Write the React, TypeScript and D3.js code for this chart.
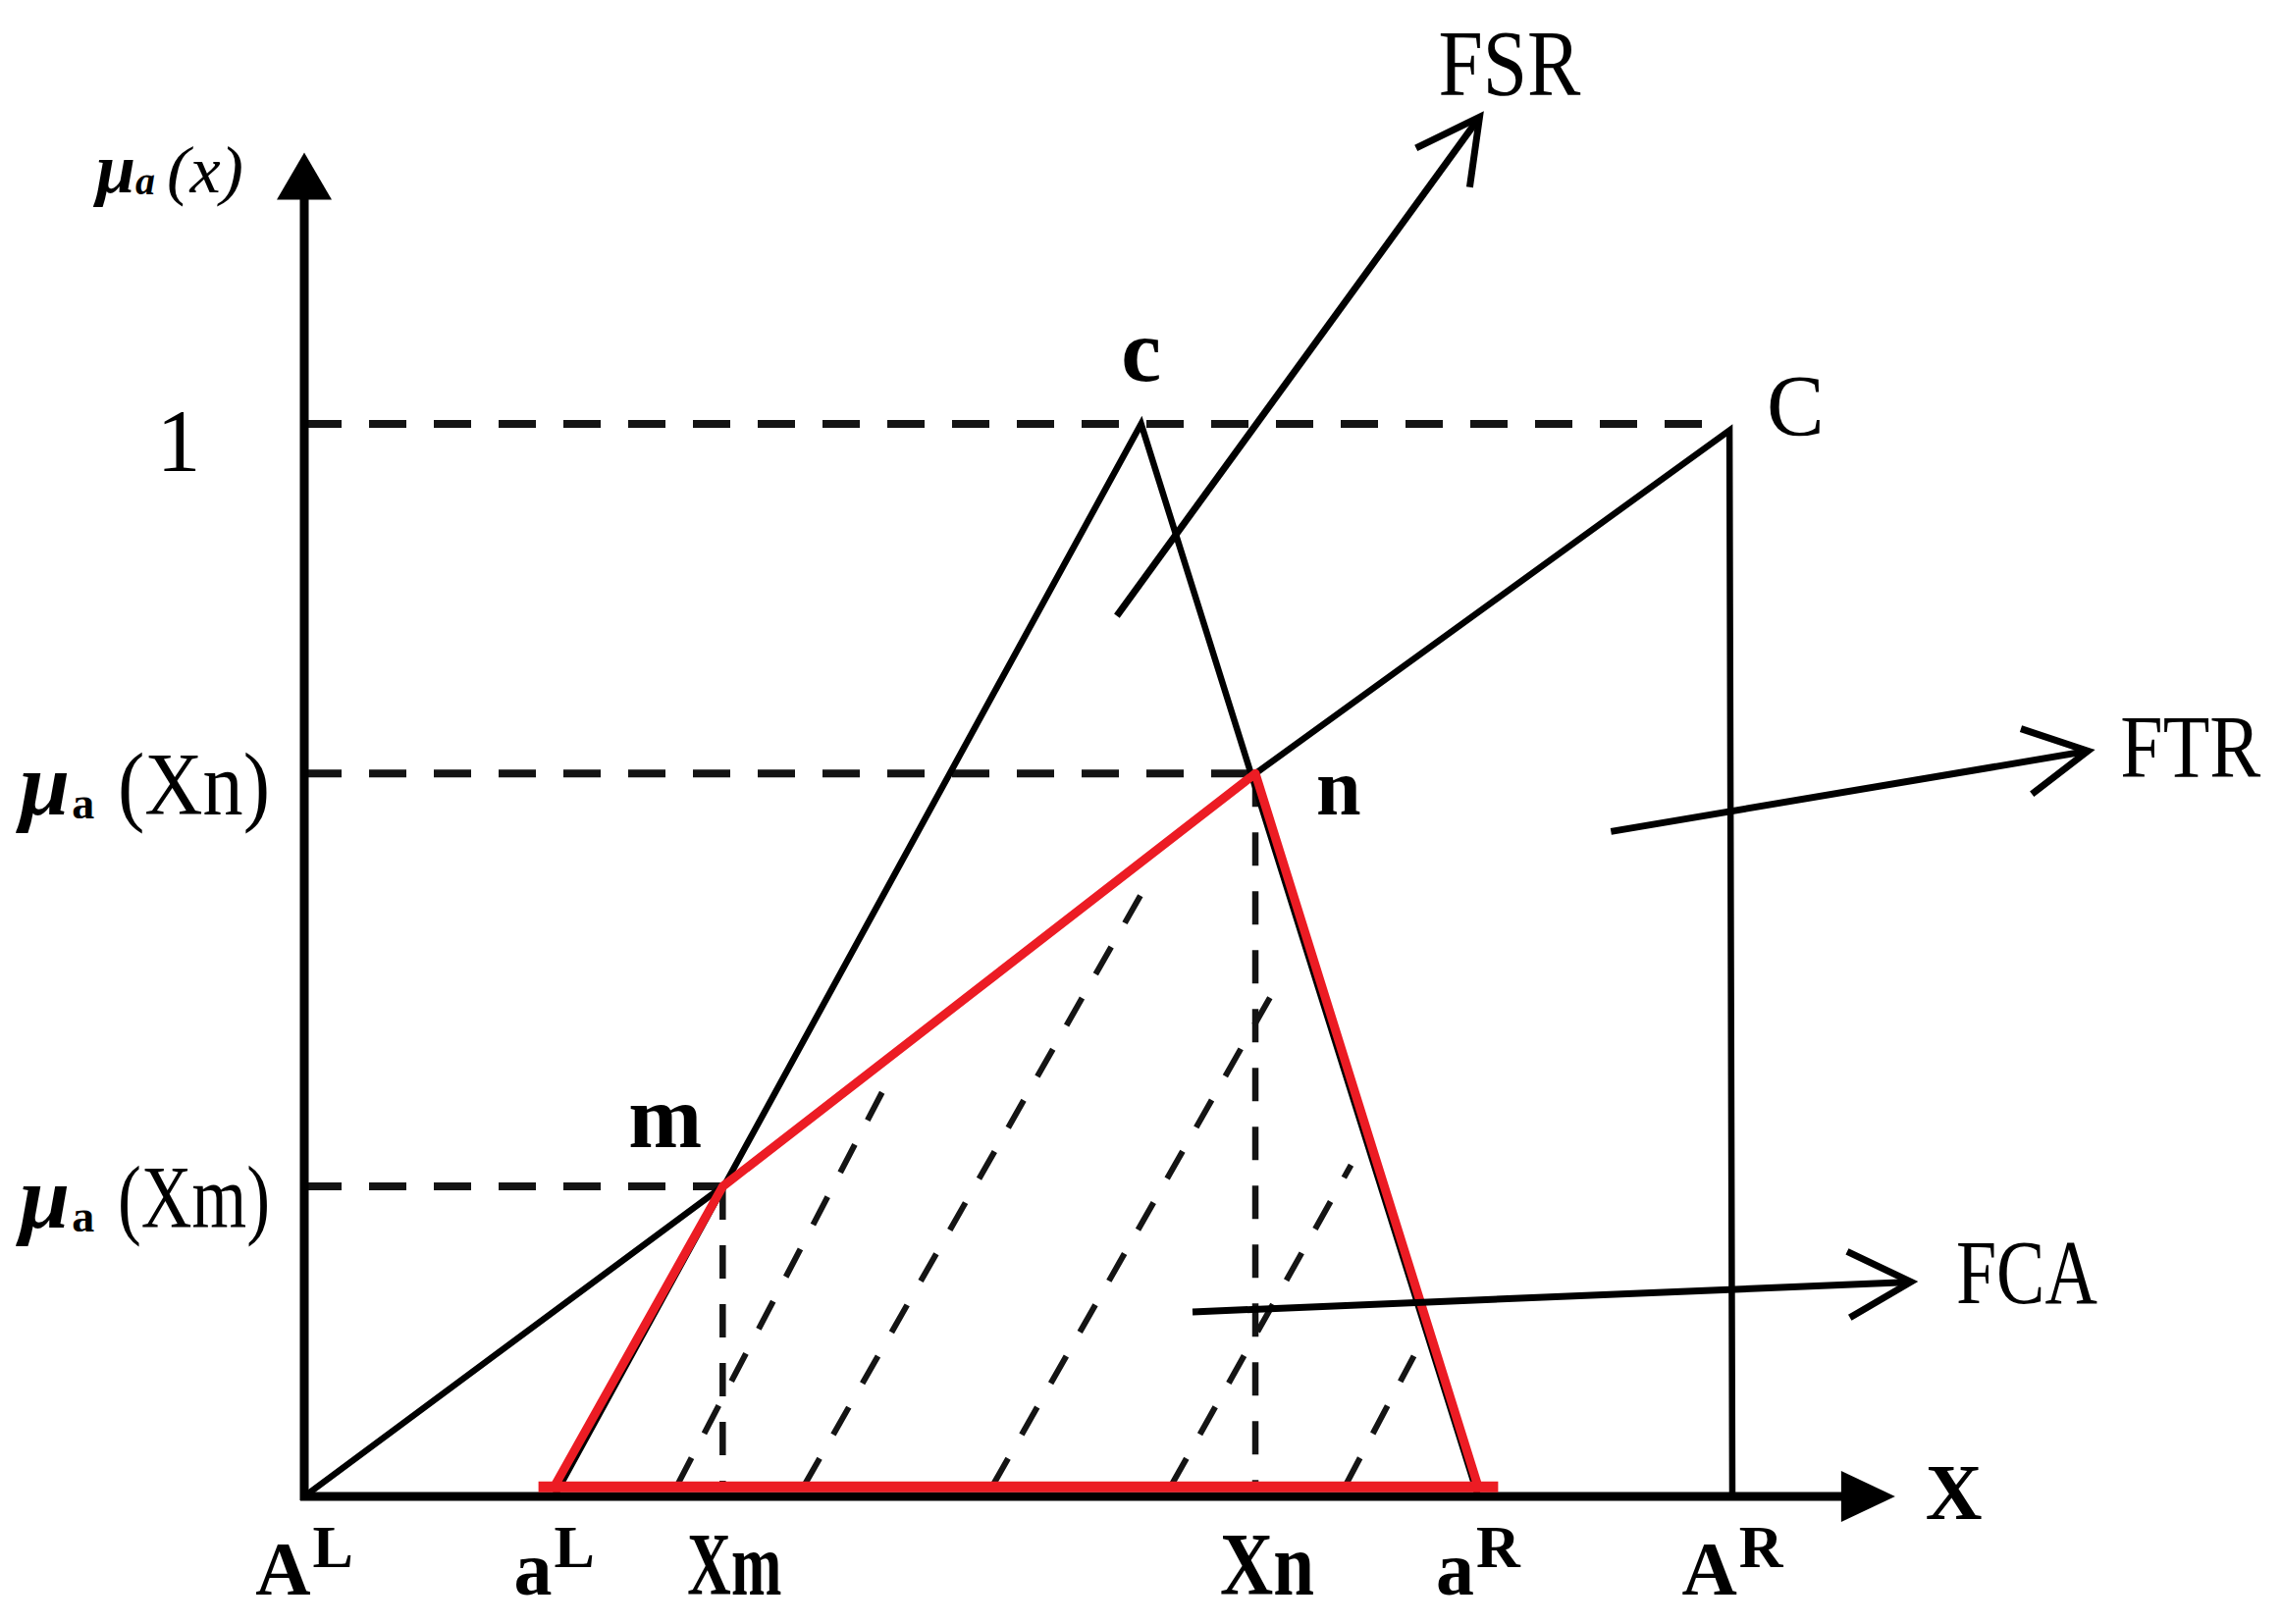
import React, { useEffect, useRef } from 'react';
import * as d3 from 'd3';

// support runs from A^L (0) to A^R (1); y is the membership grade
const xTickLabels = ['A', 'a', 'Xm', 'Xn', 'a', 'A'];
const xTickSups = ['L', 'L', '', '', 'R', 'R'];
const xTickValues = [0, 0.175, 0.293, 0.666, 0.822, 1.0];

const yTickNames = ['1', 'Xn', 'Xm'];
const yTickValues = [1, 0.674, 0.289];
const guideEnds = [0.984, 0.666, 0.293];

// small fuzzy number (a^L, c, a^R)
const smallTri: [number, number][] = [
  [0.175, 0],
  [0.586, 1],
  [0.822, 0],
];
// large fuzzy number from A^L through m and n up to C, then down to A^R
const bigTri: [number, number][] = [
  [0, 0],
  [0.293, 0.289],
  [0.666, 0.674],
  [0.998, 0.994],
  [1.0, 0],
];
// red area a^L - m - n - a^R
const redEdge: [number, number][] = [
  [0.175, 0.009],
  [0.293, 0.289],
  [0.666, 0.674],
  [0.822, 0.009],
];
const redBase = [0.164, 0.836];

// dashed hatching inside the red area
const hatchStart = [0.261, 0.35, 0.482, 0.607, 0.729];
const hatchEndX = [0.409, 0.594, 0.68, 0.733, 0.777];
const hatchEndY = [0.388, 0.58, 0.474, 0.309, 0.131];

const arrowNames = ['FSR', 'FTR', 'FCA'];
const arrowFrom: [number, number][] = [
  [0.569, 0.821],
  [0.915, 0.62],
  [0.622, 0.172],
];
const arrowTo: [number, number][] = [
  [0.823, 1.286],
  [1.249, 0.695],
  [1.125, 0.2],
];

const axisMax = [1.114, 1.253];

const App = () => {
  const ref = useRef<SVGSVGElement | null>(null);

  useEffect(() => {
    const svg = d3.select(ref.current);
    svg.selectAll('*').remove();

    const x = d3.scaleLinear().domain([0, 1]).range([310, 1765]);
    const y = d3.scaleLinear().domain([0, 1]).range([1525, 432]);
    const line = d3
      .line<[number, number]>()
      .x((d) => x(d[0]))
      .y((d) => y(d[1]));
    const font = '"Liberation Serif", "Times New Roman", serif';

    // dashed guides
    const guides = svg.append('g').attr('stroke', '#141414').attr('fill', 'none');
    yTickValues.forEach((v, i) => {
      guides
        .append('path')
        .attr('d', line([[0, v], [guideEnds[i], v]]))
        .attr('stroke-width', 8)
        .attr('stroke-dasharray', '38,28');
    });
    // verticals under m (Xm) and n (Xn)
    [
      [2, 2],
      [3, 1],
    ].forEach(([xi, yi]) => {
      guides
        .append('path')
        .attr('d', line([[xTickValues[xi], yTickValues[yi]], [xTickValues[xi], 0.01]]))
        .attr('stroke-width', 6.5)
        .attr('stroke-dasharray', '34,26');
    });
    hatchStart.forEach((s, i) => {
      guides
        .append('path')
        .attr('d', line([[s, 0.01], [hatchEndX[i], hatchEndY[i]]]))
        .attr('stroke-width', 6)
        .attr('stroke-dasharray', '32,28');
    });

    // black fuzzy numbers
    svg
      .append('path')
      .attr('d', line(smallTri))
      .attr('fill', 'none')
      .attr('stroke', '#000')
      .attr('stroke-width', 6.5);
    svg
      .append('path')
      .attr('d', line(bigTri))
      .attr('fill', 'none')
      .attr('stroke', '#000')
      .attr('stroke-width', 6.5);

    // axes
    const axes = svg.append('g').attr('stroke', '#000').attr('stroke-width', 9);
    axes
      .append('line')
      .attr('x1', x(0))
      .attr('y1', y(0) + 4)
      .attr('x2', x(0))
      .attr('y2', y(axisMax[1]) + 40);
    axes
      .append('line')
      .attr('x1', x(0) - 4)
      .attr('y1', y(0))
      .attr('x2', x(axisMax[0]) - 40)
      .attr('y2', y(0));
    const yt = y(axisMax[1]);
    svg
      .append('path')
      .attr('d', `M${x(0)},${yt} L${x(0) - 28},${yt + 48} L${x(0) + 28},${yt + 48} Z`)
      .attr('fill', '#000');
    const xt = x(axisMax[0]);
    svg
      .append('path')
      .attr('d', `M${xt},${y(0)} L${xt - 55},${y(0) - 26} L${xt - 55},${y(0) + 26} Z`)
      .attr('fill', '#000');

    // red region
    svg
      .append('path')
      .attr('d', line(redEdge))
      .attr('fill', 'none')
      .attr('stroke', '#ec1c24')
      .attr('stroke-width', 9)
      .attr('stroke-linejoin', 'round');
    svg
      .append('path')
      .attr('d', line([[redBase[0], 0.009], [redBase[1], 0.009]]))
      .attr('stroke', '#ec1c24')
      .attr('stroke-width', 11);

    // annotation arrows
    const labelOffsets = [
      [-42, -22, 95, 145],
      [33, 27, 90, 143],
      [46, 22, 94, 144],
    ];
    arrowNames.forEach((name, i) => {
      const x0 = x(arrowFrom[i][0]);
      const y0 = y(arrowFrom[i][1]);
      const x1 = x(arrowTo[i][0]);
      const y1 = y(arrowTo[i][1]);
      const back = Math.atan2(y0 - y1, x0 - x1);
      const arm = 72;
      const spread = (28 * Math.PI) / 180;
      const g = svg.append('g').attr('stroke', '#000').attr('stroke-width', 7).attr('fill', 'none');
      g.append('line').attr('x1', x0).attr('y1', y0).attr('x2', x1).attr('y2', y1);
      g.append('path')
        .attr(
          'd',
          `M${x1 + arm * Math.cos(back + spread)},${y1 + arm * Math.sin(back + spread)} L${x1},${y1} L${
            x1 + arm * Math.cos(back - spread)
          },${y1 + arm * Math.sin(back - spread)}`
        )
        .attr('stroke-linejoin', 'miter');
      const [dx, dy, size, len] = labelOffsets[i];
      svg
        .append('text')
        .attr('x', x1 + dx)
        .attr('y', y1 + dy)
        .attr('font-family', font)
        .attr('font-size', size)
        .attr('textLength', len)
        .attr('lengthAdjust', 'spacingAndGlyphs')
        .text(name);
    });

    // x tick labels
    xTickLabels.forEach((lab, i) => {
      const isX = lab.length > 1;
      const t = svg
        .append('text')
        .attr('x', x(xTickValues[i]) + (isX ? 12 : 0))
        .attr('y', 1625)
        .attr('text-anchor', 'middle')
        .attr('font-family', font)
        .attr('font-weight', 'bold')
        .attr('font-size', isX ? 90 : 78);
      if (isX) {
        t.attr('textLength', 96).attr('lengthAdjust', 'spacingAndGlyphs').text(lab);
      } else {
        t.append('tspan').text(lab);
        t.append('tspan').attr('font-size', 62).attr('dy', -28).attr('dx', 2).text(xTickSups[i]);
      }
    });
    svg
      .append('text')
      .attr('x', xt + 31)
      .attr('y', y(0) + 23)
      .attr('font-family', font)
      .attr('font-weight', 'bold')
      .attr('font-size', 80)
      .text('X');

    // y labels
    svg
      .append('text')
      .attr('x', 182)
      .attr('y', y(1) + 48)
      .attr('text-anchor', 'middle')
      .attr('font-family', font)
      .attr('font-size', 90)
      .text(yTickNames[0]);
    [1, 2].forEach((i) => {
      const base = y(yTickValues[i]) + 42;
      const mu = svg
        .append('text')
        .attr('x', 20)
        .attr('y', base)
        .attr('font-family', font);
      mu.append('tspan')
        .attr('font-size', 92)
        .attr('font-weight', 'bold')
        .attr('font-style', 'italic')
        .text('μ');
      mu.append('tspan')
        .attr('font-size', 46)
        .attr('font-weight', 'bold')
        .attr('dx', 2)
        .attr('dy', 4)
        .text('a');
      svg
        .append('text')
        .attr('x', 275)
        .attr('y', base)
        .attr('text-anchor', 'end')
        .attr('font-family', font)
        .attr('font-size', 90)
        .attr('textLength', 155)
        .attr('lengthAdjust', 'spacingAndGlyphs')
        .text(`(${yTickNames[i]})`);
    });
    const muTop = svg
      .append('text')
      .attr('x', 98)
      .attr('y', 196)
      .attr('font-family', font);
    muTop
      .append('tspan')
      .attr('font-size', 72)
      .attr('font-weight', 'bold')
      .attr('font-style', 'italic')
      .text('μ');
    muTop
      .append('tspan')
      .attr('font-size', 40)
      .attr('font-weight', 'bold')
      .attr('font-style', 'italic')
      .attr('dx', 0)
      .attr('dy', 2)
      .text('a');
    svg
      .append('text')
      .attr('x', 170)
      .attr('y', 196)
      .attr('font-family', font)
      .attr('font-size', 68)
      .attr('font-style', 'italic')
      .attr('textLength', 78)
      .attr('lengthAdjust', 'spacingAndGlyphs')
      .text('(x)');

    // point labels
    const pts = svg.append('g').attr('font-family', font);
    pts
      .append('text')
      .attr('x', x(smallTri[1][0]))
      .attr('y', y(1) - 44)
      .attr('text-anchor', 'middle')
      .attr('font-weight', 'bold')
      .attr('font-size', 92)
      .text('c');
    pts
      .append('text')
      .attr('x', x(bigTri[3][0]) + 38)
      .attr('y', y(bigTri[3][1]) + 4)
      .attr('font-size', 88)
      .text('C');
    pts
      .append('text')
      .attr('x', x(bigTri[1][0]) - 96)
      .attr('y', y(bigTri[1][1]) - 40)
      .attr('font-weight', 'bold')
      .attr('font-size', 90)
      .text('m');
    pts
      .append('text')
      .attr('x', x(bigTri[2][0]) + 62)
      .attr('y', y(bigTri[2][1]) + 42)
      .attr('font-weight', 'bold')
      .attr('font-size', 82)
      .text('n');
  }, []);

  return (
    <svg
      ref={ref}
      width={2324}
      height={1655}
      style={{ position: 'absolute', left: 0, top: 0, background: '#fff' }}
    />
  );
};

export default App;
